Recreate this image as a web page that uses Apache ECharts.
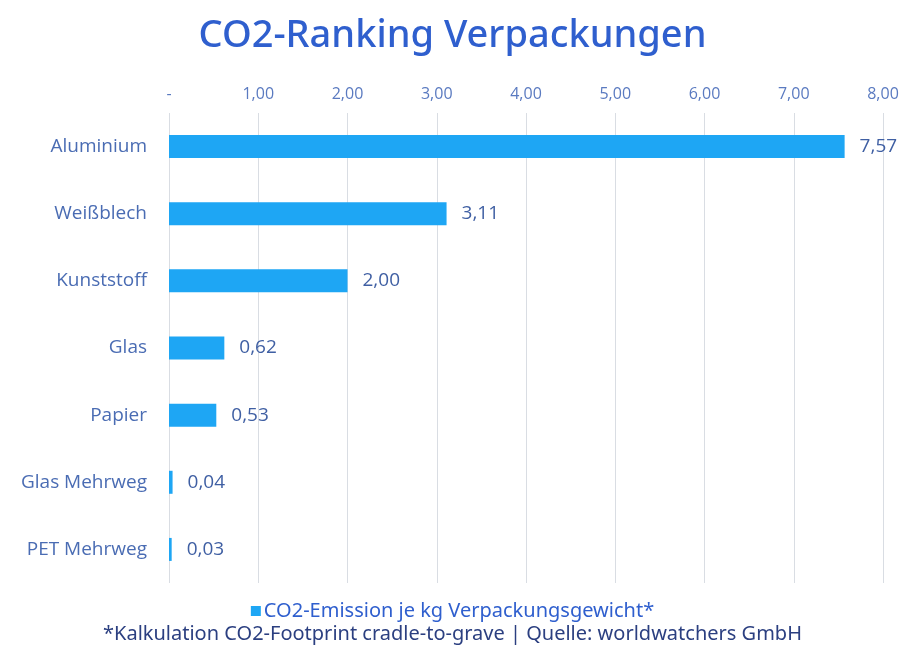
<!DOCTYPE html>
<html>
<head>
<meta charset="utf-8">
<script src="https://cdn.jsdelivr.net/npm/echarts@6/dist/echarts.min.js"></script>
<style>
  html, body { margin: 0; padding: 0; background: #fff; }
  #chart { width: 905px; height: 665px; }
</style>
</head>
<body>
<div id="chart"></div>
<script>
// Daten
const categories = ['Aluminium', 'Weißblech', 'Kunststoff', 'Glas', 'Papier', 'Glas Mehrweg', 'PET Mehrweg']
const emissionValues = [7.57, 3.11, 2.0, 0.62, 0.53, 0.04, 0.03]
const axisMin = 0
const axisMax = 8
const axisStep = 1

const fmt = (v) => v.toFixed(2).replace('.', ',')

const myChart = echarts.init(document.getElementById('chart'))

const options = {
  backgroundColor: '#fff',
  title: {
    text: 'CO2-Ranking Verpackungen',
    left: 'center',
    top: 12,
    textStyle: {
      color: '#2f5fce',
      fontSize: 38,
      fontWeight: 500,
      fontFamily: 'Noto Sans',
    },
  },
  legend: {
    top: 596,
    left: 'center',
    itemWidth: 10,
    itemHeight: 10,
    icon: 'rect',
    itemGap: 4,
    textStyle: {
      color: '#2f5fce',
      fontSize: 20,
      fontFamily: 'Noto Sans',
      padding: [0, 0, 0, -2],
    },
    data: ['CO2-Emission je kg Verpackungsgewicht*'],
  },
  graphic: [
    {
      type: 'text',
      left: 'center',
      top: 624,
      style: {
        text: '*Kalkulation CO2-Footprint cradle-to-grave | Quelle: worldwatchers GmbH',
        fill: '#2b3f80',
        fontSize: 20,
        fontFamily: 'Noto Sans',
      },
    },
  ],
  grid: {
    top: 113,
    bottom: 82,
    left: 169,
    right: 22,
  },
  xAxis: {
    type: 'value',
    position: 'top',
    min: axisMin,
    max: axisMax,
    interval: axisStep,
    axisLine: { show: false },
    axisTick: { show: false },
    axisLabel: {
      color: '#5a7ac0',
      fontSize: 16,
      fontFamily: 'Open Sans',
      margin: 11,
      formatter: (v) => (v === 0 ? '-' : fmt(v)),
    },
    splitLine: {
      lineStyle: { color: '#d9dde3', width: 1 },
    },
  },
  yAxis: {
    type: 'category',
    inverse: true,
    data: categories,
    axisLine: { show: false },
    axisTick: { show: false },
    axisLabel: {
      color: '#4a6cb3',
      fontSize: 19,
      fontFamily: 'Open Sans',
      margin: 22,
    },
  },
  series: [
    {
      name: 'CO2-Emission je kg Verpackungsgewicht*',
      type: 'bar',
      data: emissionValues,
      barWidth: 23,
      itemStyle: { color: '#1ea6f4' },
      label: {
        show: true,
        position: 'right',
        distance: 15,
        color: '#3f5fa3',
        fontSize: 19,
        fontFamily: 'Open Sans',
        formatter: (p) => fmt(p.value),
      },
    },
  ],
}
myChart.setOption(options)
</script>
</body>
</html>
